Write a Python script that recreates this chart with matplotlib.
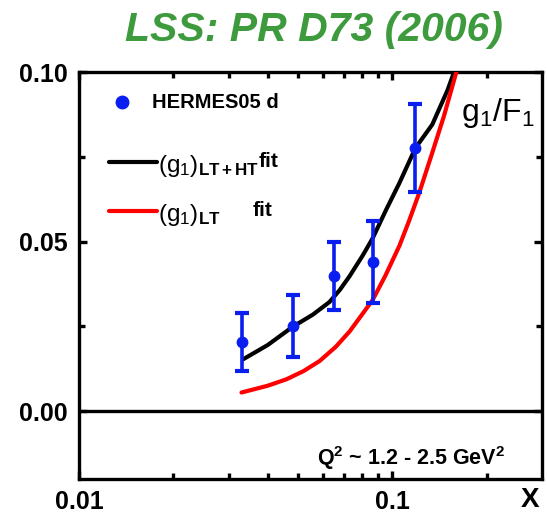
import matplotlib
matplotlib.use("Agg")
import matplotlib.pyplot as plt
from matplotlib.ticker import FixedLocator, NullFormatter

plt.rcParams["font.family"] = ["Liberation Sans", "DejaVu Sans"]
plt.rcParams["mathtext.fontset"] = "custom"
plt.rcParams["mathtext.rm"] = "Liberation Sans"
plt.rcParams["mathtext.bf"] = "Liberation Sans:bold"
plt.rcParams["mathtext.it"] = "Liberation Sans:italic"

# HERMES05 deuteron g1/F1 data
x_data = [0.033, 0.048, 0.065, 0.087, 0.118]
y_data = [0.0204, 0.0251, 0.0398, 0.0440, 0.0776]
y_err = [0.0086, 0.0092, 0.0100, 0.0121, 0.0130]

# (g1)_LT+HT fit
x_lt_ht = [0.0334, 0.040, 0.0481, 0.0558, 0.063, 0.068, 0.073, 0.0805,
           0.0865, 0.0955, 0.1053, 0.1184, 0.134, 0.150, 0.158, 0.160]
y_lt_ht = [0.0153, 0.0195, 0.0249, 0.0285, 0.0322, 0.0358, 0.0398, 0.0460,
           0.0510, 0.0594, 0.0673, 0.0776, 0.0845, 0.0947, 0.1005, 0.1020]

# (g1)_LT fit
x_lt = [0.033, 0.040, 0.0459, 0.052, 0.0586, 0.066, 0.073, 0.080, 0.0865,
        0.095, 0.1053, 0.1129, 0.1219, 0.134, 0.146, 0.1595, 0.163]
y_lt = [0.0055, 0.0075, 0.0094, 0.0118, 0.0148, 0.0190, 0.0235, 0.0285, 0.0328,
        0.0400, 0.0488, 0.0560, 0.0645, 0.0762, 0.0870, 0.0996, 0.1030]

x_ticks = [0.01, 0.1]
x_ticklabels = ["0.01", "0.1"]
y_ticks = [0.0, 0.05, 0.10]
y_ticklabels = ["0.00", "0.05", "0.10"]

fig = plt.figure(figsize=(5.47, 5.17), dpi=100)
ax = fig.add_axes([0.1444, 0.0735, 0.8464, 0.7872])

ax.plot(x_lt_ht, y_lt_ht, color="black", lw=3.0, solid_capstyle="round",
        solid_joinstyle="round", zorder=3)
ax.plot(x_lt, y_lt, color="#ff0000", lw=3.0, solid_capstyle="round",
        solid_joinstyle="round", zorder=3)
ax.errorbar(x_data, y_data, yerr=y_err, fmt="o", color="#0a1ef0", ms=7.5,
            elinewidth=2.6, capsize=5, capthick=3, zorder=4)
ax.axhline(0.0, color="black", lw=2.4, zorder=2)

ax.set_xscale("log")
ax.set_xlim(0.01, 0.3)
ax.set_ylim(-0.02, 0.10)

ax.set_xticks(x_ticks)
ax.set_xticklabels(x_ticklabels)
ax.xaxis.set_minor_locator(FixedLocator([0.02, 0.03, 0.04, 0.05, 0.06, 0.07, 0.08, 0.09, 0.2]))
ax.xaxis.set_minor_formatter(NullFormatter())
ax.set_yticks(y_ticks)
ax.set_yticklabels(y_ticklabels)
ax.yaxis.set_minor_locator(FixedLocator([0.025, 0.075]))

ax.tick_params(which="both", direction="in", top=True, right=True, width=2.4)
ax.tick_params(which="major", length=6, pad=8, labelsize=18)
ax.tick_params(which="minor", length=4)
for lbl in ax.get_xticklabels() + ax.get_yticklabels():
    lbl.set_fontweight("bold")
for spine in ax.spines.values():
    spine.set_linewidth(2.4)

# legend drawn by hand
ax.plot([0.0929], [0.926], "o", color="#0a1ef0", ms=9, transform=ax.transAxes, clip_on=False)
ax.text(0.158, 0.926, "HERMES05 d", transform=ax.transAxes, fontsize=14.5,
        fontweight="bold", va="center")
ax.plot([0.0648, 0.1685], [0.779, 0.779], color="black", lw=3.0,
        solid_capstyle="round", transform=ax.transAxes)
ax.plot([0.0648, 0.1685], [0.6585, 0.6585], color="#ff0000", lw=3.0,
        solid_capstyle="round", transform=ax.transAxes)
ax.text(0.17, 0.77, r"$\mathrm{(g_1)}_{\mathbf{LT+HT}}$", transform=ax.transAxes,
        fontsize=17.5, va="center")
ax.text(0.389, 0.781, "fit", transform=ax.transAxes, fontsize=15,
        fontweight="bold", va="center")
ax.text(0.17, 0.648, r"$\mathrm{(g_1)}_{\mathbf{LT}}$", transform=ax.transAxes,
        fontsize=17.5, va="center")
ax.text(0.376, 0.66, "fit", transform=ax.transAxes, fontsize=15,
        fontweight="bold", va="center")

ax.text(0.826, 0.9, r"$\mathrm{g_1/F_1}$", transform=ax.transAxes, fontsize=23,
        va="center")
ax.text(0.515, 0.035, r"$\mathbf{Q^2}$ ~ 1.2 - 2.5 GeV$\mathbf{^2}$",
        transform=ax.transAxes, fontsize=15.5, fontweight="bold", va="baseline")

fig.text(0.969, 0.033, "X", fontsize=20, fontweight="bold", ha="center", va="center")
fig.text(0.574, 0.942, "LSS: PR D73 (2006)", fontsize=29.5, fontweight="bold",
         fontstyle="italic", color="#3d9b3d", ha="center", va="center")

fig.savefig("out.png", dpi=100)
